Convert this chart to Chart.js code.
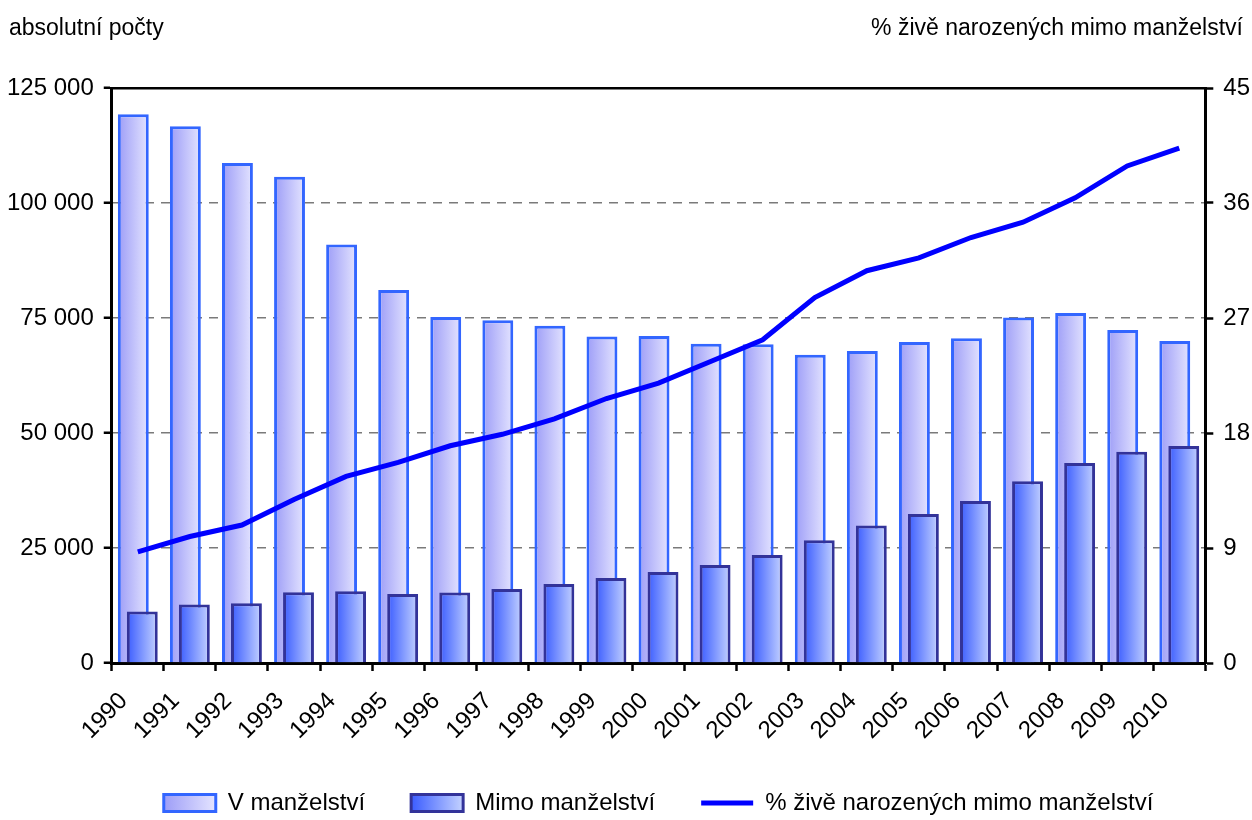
<!DOCTYPE html>
<html>
<head>
<meta charset="utf-8">
<title>Živě narození podle legitimity</title>
<script src="https://cdn.jsdelivr.net/npm/chart.js@4.4.1/dist/chart.umd.min.js"></script>
<style>
  html, body { margin: 0; padding: 0; background: #fff; }
</style>
</head>
<body>
<canvas id="chart" width="1252" height="820"></canvas>
<script>
// data
const years = ['1990', '1991', '1992', '1993', '1994', '1995', '1996', '1997', '1998', '1999', '2000',
  '2001', '2002', '2003', '2004', '2005', '2006', '2007', '2008', '2009', '2010'];
const inMarriage = [119300, 116700, 108700, 105700, 91000, 81100, 75200, 74500, 73300, 71000, 71100,
  69400, 69300, 67000, 67800, 69800, 70600, 75100, 76100, 72400, 70000];
const outOfMarriage = [11200, 12700, 13000, 15400, 15600, 15000, 15300, 16100, 17200, 18500, 19800,
  21300, 23500, 26700, 29900, 32400, 35200, 39500, 43500, 45900, 47200];
const sharePct = [8.7, 9.9, 10.8, 12.8, 14.6, 15.7, 17.0, 17.9, 19.1, 20.7, 21.9,
  23.6, 25.3, 28.6, 30.7, 31.7, 33.3, 34.5, 36.4, 38.9, 40.3];
const leftTicks = [0, 25000, 50000, 75000, 100000, 125000];
const rightTicks = [0, 9, 18, 27, 36, 45];

const leftCaption = 'absolutní počty';
const rightCaption = '% živě narozených mimo manželství';

const CAT_PCT = 0.345;
const BAR_PCT = 3.44;
const FONT = '"Liberation Sans", Arial, sans-serif';

Chart.defaults.font.family = FONT;
Chart.defaults.font.size = 24;
Chart.defaults.color = '#000';

// horizontal gradient across one bar, computed from the category scale
function barGradient(ctx, slot, from, to) {
  const chart = ctx.chart;
  const xs = chart.scales.x;
  if (!xs || !xs.width || ctx.dataIndex === undefined) return to;
  const catW = xs.width / years.length;
  const chunk = catW * CAT_PCT / 2;
  const center = xs.getPixelForValue(ctx.dataIndex) - chunk + chunk * slot + chunk / 2;
  const half = chunk * BAR_PCT / 2;
  const g = chart.ctx.createLinearGradient(center - half, 0, center + half, 0);
  g.addColorStop(0, from);
  g.addColorStop(1, to);
  return g;
}

const fmt = v => String(v).replace(/\B(?=(\d{3})+(?!\d))/g, ' ');

// bars in front of each other left to right, line on top
const drawOrder = {
  id: 'drawOrder',
  beforeDatasetsDraw(chart) {
    [0, 1, 2].forEach(i => chart.getDatasetMeta(i).controller.draw());
    return false;
  }
};

const captions = {
  id: 'captions',
  beforeDraw(chart) {
    const lg = chart.legend;
    const stops = [['#9d9df7', '#e4e4ff'], ['#3a5cff', '#c4d2ff']];
    lg.legendItems.forEach((it, i) => {
      const hb = lg.legendHitBoxes[i];
      if (it.datasetIndex > 1 || !hb) return;
      const g = chart.ctx.createLinearGradient(hb.left, 0, hb.left + 52, 0);
      g.addColorStop(0, stops[it.datasetIndex][0]);
      g.addColorStop(1, stops[it.datasetIndex][1]);
      it.fillStyle = g;
    });
  },
  afterDraw(chart) {
    const c = chart.ctx;
    c.save();
    c.font = '23px ' + FONT;
    c.fillStyle = '#000';
    c.textBaseline = 'middle';
    c.textAlign = 'left';
    c.fillText(leftCaption, 9, 29);
    c.textAlign = 'right';
    c.fillText(rightCaption, chart.width - 9, 29);
    c.restore();
  }
};

new Chart(document.getElementById('chart'), {
  data: {
    labels: years,
    datasets: [
      {
        type: 'bar',
        label: 'V manželství',
        data: inMarriage,
        yAxisID: 'y',
        backgroundColor: ctx => barGradient(ctx, 0, '#9d9df7', '#e4e4ff'),
        borderColor: '#3366ff',
        borderWidth: 3,
        categoryPercentage: CAT_PCT,
        barPercentage: BAR_PCT
      },
      {
        type: 'bar',
        label: 'Mimo manželství',
        data: outOfMarriage,
        yAxisID: 'y',
        backgroundColor: ctx => barGradient(ctx, 1, '#3a5cff', '#c4d2ff'),
        borderColor: '#333399',
        borderWidth: 3,
        categoryPercentage: CAT_PCT,
        barPercentage: BAR_PCT
      },
      {
        type: 'line',
        label: '% živě narozených mimo manželství',
        data: sharePct,
        yAxisID: 'y1',
        borderColor: '#0000ff',
        backgroundColor: '#0000ff',
        borderWidth: 5,
        pointRadius: 0,
        tension: 0,
        fill: false
      }
    ]
  },
  options: {
    responsive: false,
    animation: false,
    layout: { padding: { top: 88, left: -3, right: -8, bottom: -5 } },
    scales: {
      x: {
        type: 'category',
        offset: true,
        afterFit: s => { s.height = 82; },
        grid: {
          offset: true,
          drawOnChartArea: false,
          tickLength: 8,
          tickColor: '#000',
          tickWidth: 2.5
        },
        border: { color: '#000', width: 3 },
        ticks: { maxRotation: 45, minRotation: 45, padding: 16, labelOffset: -14, autoSkip: false }
      },
      xTop: {
        type: 'category',
        position: 'top',
        offset: true,
        grid: { display: false, drawTicks: false },
        ticks: { display: false },
        border: { color: '#000', width: 2.5 }
      },
      y: {
        position: 'left',
        min: leftTicks[0],
        max: leftTicks[leftTicks.length - 1],
        afterBuildTicks: axis => { axis.ticks = leftTicks.map(v => ({ value: v })); },
        grid: {
          color: ctx => (ctx.tick && ctx.tick.value === leftTicks[leftTicks.length - 1]) ? 'rgba(0,0,0,0)' : '#7a7a7a',
          lineWidth: 1.5,
          tickLength: 8,
          tickColor: '#000',
          tickWidth: 2.5,
          tickBorderDash: []
        },
        border: { color: '#000', width: 3, dash: [9, 7] },
        ticks: { padding: 10, callback: v => fmt(v) }
      },
      y1: {
        position: 'right',
        min: rightTicks[0],
        max: rightTicks[rightTicks.length - 1],
        afterBuildTicks: axis => { axis.ticks = rightTicks.map(v => ({ value: v })); },
        grid: {
          drawOnChartArea: false,
          tickLength: 8,
          tickColor: '#000',
          tickWidth: 2.5
        },
        border: { color: '#000', width: 3 },
        ticks: { padding: 10 }
      }
    },
    plugins: {
      tooltip: { enabled: false },
      legend: {
        position: 'bottom',
        fullSize: false,
        labels: {
          usePointStyle: true,
          pointStyleWidth: 52,
          boxHeight: 17,
          padding: 46,
          font: { size: 24 },
          generateLabels(chart) {
            const items = Chart.defaults.plugins.legend.labels.generateLabels(chart);
            items.forEach(it => {
              if (it.datasetIndex === 2) {
                it.pointStyle = 'line';
                it.lineWidth = 5;
                it.strokeStyle = '#0000ff';
              } else {
                it.pointStyle = 'rect';
                it.lineWidth = 3;
              }
            });
            return items;
          }
        }
      }
    }
  },
  plugins: [drawOrder, captions]
});
</script>
</body>
</html>
